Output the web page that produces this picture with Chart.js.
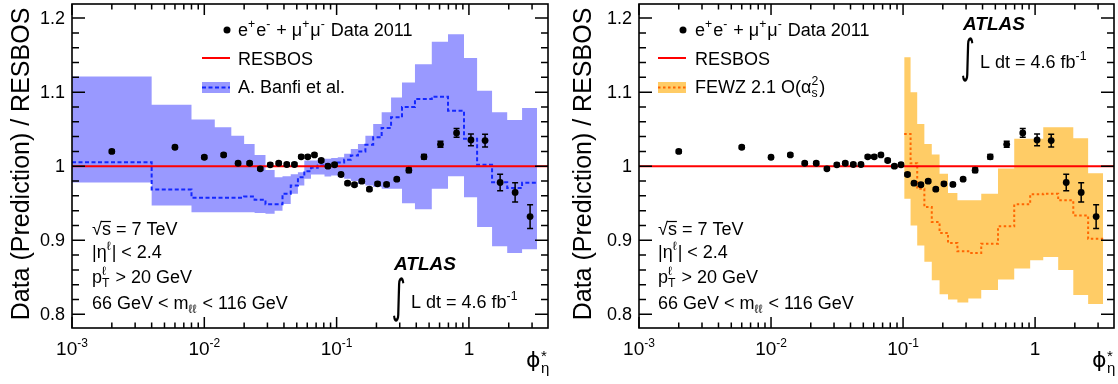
<!DOCTYPE html>
<html>
<head>
<meta charset="utf-8">
<script src="https://cdn.jsdelivr.net/npm/chart.js@4.4.0/dist/chart.umd.min.js"></script>
<style>
  html, body { margin: 0; padding: 0; background: #fff; }
  #wrap { position: relative; width: 1118px; height: 384px; }
  .panel { position: absolute; top: 0; width: 559px; height: 384px; }
</style>
</head>
<body>
<div id="wrap">
  <div class="panel" style="left:0"><canvas id="leftPanel" width="559" height="384"></canvas></div>
  <div class="panel" style="left:559px"><canvas id="rightPanel" width="559" height="384"></canvas></div>
</div>
<script>
const FONT = '"Liberation Sans", Arial, Helvetica, sans-serif';
const SYM = '"DejaVu Sans", "Liberation Sans", sans-serif';

////// data //////
// phi*_eta bin edges
const binEdges = [0, 0.004, 0.008, 0.012, 0.016, 0.020, 0.024, 0.029, 0.034, 0.039, 0.045, 0.051,
  0.057, 0.064, 0.072, 0.081, 0.091, 0.102, 0.114, 0.128, 0.145, 0.165, 0.189, 0.219, 0.258,
  0.312, 0.391, 0.524, 0.695, 0.918, 1.153, 1.496, 1.947, 2.522, 3.277];

// data points (bin centres), ratio data / RESBOS and stat error
const dataPhi = [0.002, 0.006, 0.010, 0.014, 0.018, 0.022, 0.0265, 0.0315, 0.0365, 0.042, 0.048,
  0.054, 0.0605, 0.068, 0.0765, 0.086, 0.0965, 0.108, 0.121, 0.1365, 0.155, 0.177, 0.204, 0.2385,
  0.285, 0.3515, 0.4575, 0.6095, 0.8065, 1.0355, 1.3245, 1.7215, 2.2345, 2.8995];
const dataRatio = [1.020, 1.0256, 1.0121, 1.0153, 1.004, 1.004, 0.9965, 1.0019, 1.004, 1.0023, 1.0023,
  1.0127, 1.0127, 1.0153, 1.0077, 1.000, 1.002, 0.9888, 0.9771, 0.975, 0.9798, 0.969, 0.9763, 0.9754,
  0.9825, 0.9946, 1.0127, 1.0296, 1.045, 1.0355, 1.0346, 0.978, 0.9646, 0.932];
const dataErr = [0.002, 0.002, 0.002, 0.002, 0.002, 0.002, 0.002, 0.002, 0.002, 0.002, 0.002,
  0.002, 0.002, 0.002, 0.002, 0.002, 0.002, 0.002, 0.002, 0.002, 0.002, 0.002, 0.002, 0.002,
  0.002, 0.003, 0.003, 0.004, 0.006, 0.008, 0.0085, 0.011, 0.013, 0.016];

// A. Banfi et al. band (per bin)
const banfiHigh = [1.121, 1.083, 1.063, 1.0525, 1.0413, 1.0301, 1.0153, 0.995, 0.985, 0.9865, 0.989,
  0.992, 1.0077, 1.0077, 1.010, 1.010, 1.011, 1.012, 1.0167, 1.0234, 1.030, 1.0413, 1.057, 1.0727,
  1.0929, 1.113, 1.1378, 1.168, 1.178, 1.146, 1.102, 1.0727, 1.0624, 1.0786];
const banfiLow = [0.978, 0.947, 0.938, 0.938, 0.938, 0.938, 0.937, 0.936, 0.940, 0.949, 0.963,
  0.974, 0.983, 0.9888, 0.9888, 0.986, 0.9875, 0.985, 0.983, 0.980, 0.976, 0.974, 0.972, 0.9695,
  0.9695, 0.950, 0.942, 0.9695, 0.9865, 0.958, 0.918, 0.892, 0.883, 0.888];
const banfiMid = [1.0054, 0.9686, 0.9575, 0.9575, 0.9575, 0.959, 0.9548, 0.9485, 0.9485, 0.9628, 0.974,
  0.985, 0.9933, 0.9978, 1.001, 1.003, 1.003, 1.005, 1.0086, 1.0144, 1.0198, 1.029, 1.039, 1.0517,
  1.066, 1.080, 1.0907, 1.0938, 1.075, 1.037, 1.002, 0.9785, 0.9705, 0.9777];

// FEWZ 2.1 band (bins above 0.102)
const fewzEdges = [0.102, 0.114, 0.128, 0.145, 0.165, 0.189, 0.219, 0.258, 0.312, 0.391, 0.524,
  0.695, 0.918, 1.153, 1.496, 1.947, 2.522, 3.277];
const fewzHigh = [1.147, 1.100, 1.057, 1.030, 1.0157, 0.99, 0.964, 0.954, 0.954, 0.963, 0.997,
  1.037, 1.037, 1.0525, 1.0525, 1.0377, 0.9906];
const fewzLow = [0.956, 0.920, 0.893, 0.871, 0.846, 0.827, 0.820, 0.816, 0.8215, 0.833, 0.847,
  0.862, 0.873, 0.8775, 0.860, 0.826, 0.814];
const fewzMid = [1.0436, 1.004, 0.9695, 0.9448, 0.9246, 0.910, 0.8964, 0.8852, 0.883, 0.8955, 0.9188,
  0.9485, 0.962, 0.963, 0.954, 0.9336, 0.902];

// RESBOS reference line
const resbosPhi = [0.001, 3.96];
const resbosRatio = [1, 1];

// axes
const xRange = [0.001, 3.96];
const yRange = [0.7816, 1.219];
const yTicks = [0.8, 0.9, 1, 1.1, 1.2];
const yTickLabels = ['0.8', '0.9', '1', '1.1', '1.2'];
const yMinorStep = 0.02;
const xTicks = [0.001, 0.01, 0.1, 1];
const xTickExp = ['-3', '-2', '-1', ''];

////// helpers //////
function steps(edges, vals) {
  const pts = vals.map((v, i) => ({ x: Math.max(edges[i], xRange[0]), y: v }));
  pts.push({ x: edges[vals.length], y: vals[vals.length - 1] });
  return pts;
}

// draw text made of normal / sup / sub pieces
function rich(ctx, x, y, parts, size) {
  let cx = x;
  const s = size * 0.68;
  for (const p of parts) {
    if (typeof p === 'string') {
      ctx.font = size + 'px ' + FONT;
      ctx.fillText(p, cx, y);
      cx += ctx.measureText(p).width;
    } else {
      ctx.font = s + 'px ' + FONT;
      let w = 0;
      if (p.sup !== undefined) {
        ctx.fillText(p.sup, cx, y - size * 0.42);
        w = Math.max(w, ctx.measureText(p.sup).width);
      }
      if (p.sub !== undefined) {
        ctx.fillText(p.sub, cx, y + size * 0.24);
        w = Math.max(w, ctx.measureText(p.sub).width);
      }
      cx += w + 1;
    }
  }
  return cx;
}

// integral sign stretched to a given height
function integral(ctx, x, top, bottom) {
  ctx.save();
  ctx.font = '40px ' + SYM;
  const m = ctx.measureText('\u222B');
  const h = m.actualBoundingBoxAscent + m.actualBoundingBoxDescent;
  const k = (bottom - top) / h;
  ctx.translate(x, top);
  ctx.scale(k * 0.6, k);
  ctx.textAlign = 'left';
  ctx.textBaseline = 'alphabetic';
  ctx.fillText('\u222B', m.actualBoundingBoxLeft, m.actualBoundingBoxAscent);
  ctx.restore();
}

////// plugins //////
const errorBars = {
  id: 'errorBars',
  beforeDatasetDraw(chart, args) {
    if (chart.data.datasets[args.index].label !== 'data') return;
    const { ctx, scales: { x, y } } = chart;
    ctx.save();
    ctx.strokeStyle = '#000';
    ctx.lineWidth = 1.5;
    ctx.beginPath();
    dataPhi.forEach((phi, i) => {
      const px = x.getPixelForValue(phi);
      const lo = y.getPixelForValue(dataRatio[i] - dataErr[i]);
      const hi = y.getPixelForValue(dataRatio[i] + dataErr[i]);
      ctx.moveTo(px, lo); ctx.lineTo(px, hi);
      ctx.moveTo(px - 3, lo); ctx.lineTo(px + 3, lo);
      ctx.moveTo(px - 3, hi); ctx.lineTo(px + 3, hi);
    });
    ctx.stroke();
    ctx.restore();
  }
};

const axesFrame = {
  id: 'axesFrame',
  afterDraw(chart, args, opts) {
    const { ctx, chartArea: a, scales: { x, y } } = chart;
    ctx.save();
    ctx.strokeStyle = '#000';
    ctx.fillStyle = '#000';
    ctx.lineWidth = 1.5;
    ctx.beginPath();
    // y ticks, both sides, pointing inwards
    for (let k = 40; k <= 60; k++) {
      const py = y.getPixelForValue(k * yMinorStep);
      const len = k % 5 === 0 ? 13 : 7;
      ctx.moveTo(a.left, py); ctx.lineTo(a.left + len, py);
      ctx.moveTo(a.right, py); ctx.lineTo(a.right - len, py);
    }
    // log x ticks, bottom and top
    xTicks.forEach(d => {
      for (let m = 1; m <= 9; m++) {
        const v = d * m;
        if (v > x.max * 1.0001) break;
        const px = x.getPixelForValue(v);
        const len = m === 1 ? 11 : 5.5;
        ctx.moveTo(px, a.bottom); ctx.lineTo(px, a.bottom - len);
        ctx.moveTo(px, a.top); ctx.lineTo(px, a.top + len);
      }
    });
    ctx.stroke();
    ctx.lineWidth = 1.6;
    ctx.strokeRect(a.left, a.top, a.right - a.left, a.bottom - a.top);

    // y tick labels
    ctx.font = '18px ' + FONT;
    ctx.textAlign = 'right';
    ctx.textBaseline = 'middle';
    yTicks.forEach((v, i) => ctx.fillText(yTickLabels[i], a.left - 7, y.getPixelForValue(v) + 1));

    // x tick labels
    ctx.textBaseline = 'alphabetic';
    ctx.textAlign = 'left';
    xTicks.forEach((v, i) => {
      const px = x.getPixelForValue(v);
      const base = xTickExp[i] ? '10' : '1';
      ctx.font = '19px ' + FONT;
      const w1 = ctx.measureText(base).width;
      ctx.font = '12px ' + FONT;
      const w2 = xTickExp[i] ? ctx.measureText(xTickExp[i]).width : 0;
      const x0 = px - (w1 + w2) / 2;
      ctx.font = '19px ' + FONT;
      ctx.fillText(base, x0, 355);
      if (xTickExp[i]) {
        ctx.font = '12px ' + FONT;
        ctx.fillText(xTickExp[i], x0 + w1, 347);
      }
    });

    // y title
    ctx.save();
    ctx.translate(opts.titleX, 164);
    ctx.rotate(-Math.PI / 2);
    ctx.font = '25px ' + FONT;
    ctx.textAlign = 'center';
    ctx.fillText('Data (Prediction) / RESBOS', 0, 0);
    ctx.restore();

    // x title phi*_eta
    ctx.textAlign = 'left';
    ctx.font = '22px ' + SYM;
    ctx.fillText('\u03D5', a.right - 22, 367);
    ctx.font = '15px ' + FONT;
    ctx.fillText('*', a.right - 7, 361);
    ctx.fillText('\u03B7', a.right - 7, 373);
    ctx.restore();
  }
};

function makeNotes(cfg) {
  return {
    id: 'notes',
    afterDraw(chart) {
      const ctx = chart.ctx;
      ctx.save();
      ctx.fillStyle = '#000';
      ctx.textAlign = 'left';
      ctx.textBaseline = 'alphabetic';

      // legend
      const L = cfg.legend;
      ctx.beginPath();
      ctx.arc(L.markerX, 30, 3.5, 0, Math.PI * 2);
      ctx.fill();
      rich(ctx, L.textX, 36, ['e', { sup: '+' }, 'e', { sup: '-' }, ' + \u03BC', { sup: '+' }, '\u03BC', { sup: '-' }, ' Data 2011'], 18);
      ctx.strokeStyle = 'rgb(255,0,0)';
      ctx.lineWidth = 2;
      ctx.beginPath(); ctx.moveTo(L.boxX, 58); ctx.lineTo(L.boxX + 28, 58); ctx.stroke();
      rich(ctx, L.textX, 65, ['RESBOS'], 18);
      ctx.fillStyle = cfg.bandColor;
      ctx.fillRect(L.boxX, 82, 28, 11);
      ctx.strokeStyle = cfg.lineColor;
      ctx.setLineDash(cfg.dash);
      ctx.beginPath(); ctx.moveTo(L.boxX, 87.5); ctx.lineTo(L.boxX + 28, 87.5); ctx.stroke();
      ctx.setLineDash([]);
      ctx.fillStyle = '#000';
      rich(ctx, L.textX, 93, cfg.bandLabel, 18);

      // kinematic selection
      const kx = cfg.kinX;
      ctx.font = '18px ' + FONT;
      const wr = ctx.measureText('\u221A').width;
      ctx.fillText('\u221A', kx, 235);
      const ws = ctx.measureText('s').width;
      ctx.lineWidth = 1.2;
      ctx.strokeStyle = '#000';
      ctx.beginPath(); ctx.moveTo(kx + wr - 1, 221.5); ctx.lineTo(kx + wr + ws, 221.5); ctx.stroke();
      rich(ctx, kx + wr, 235, ['s = 7 TeV'], 18);
      rich(ctx, kx, 258, ['|\u03B7', { sup: '\u2113' }, '| < 2.4'], 18);
      rich(ctx, kx, 283, ['p', { sub: 'T', sup: '\u2113' }, ' > 20 GeV'], 18);
      rich(ctx, kx, 309, ['66 GeV < m', { sub: '\u2113\u2113' }, ' < 116 GeV'], 18);

      // ATLAS label
      const A = cfg.atlas;
      ctx.font = 'italic bold 19px ' + FONT;
      ctx.fillText('ATLAS', A.x, A.y);
      integral(ctx, A.x - 1, A.y + 6, A.y + 52);
      rich(ctx, A.x + 17, A.y + 38, ['L dt = 4.6 fb', { sup: '-1' }], 18);
      ctx.restore();
    }
  };
}

function makePanel(id, pad, titleX, model, notes) {
  return new Chart(document.getElementById(id), {
    type: 'scatter',
    data: {
      datasets: [
        { label: 'bandHigh', data: steps(model.edges, model.high), showLine: true, stepped: true,
          borderWidth: 0, pointRadius: 0, fill: '+1', backgroundColor: model.bandColor, order: 4 },
        { label: 'bandLow', data: steps(model.edges, model.low), showLine: true, stepped: true,
          borderWidth: 0, pointRadius: 0, fill: false, order: 3 },
        { label: 'central', data: steps(model.edges, model.mid), showLine: true, stepped: true,
          borderWidth: 2, borderColor: model.lineColor, borderDash: model.dash, pointRadius: 0, fill: false, order: 2 },
        { label: 'RESBOS', data: resbosPhi.map((p, i) => ({ x: p, y: resbosRatio[i] })), showLine: true,
          borderWidth: 2, borderColor: 'rgb(255,0,0)', pointRadius: 0, fill: false, order: 1 },
        { label: 'data', data: dataPhi.map((p, i) => ({ x: p, y: dataRatio[i] })), showLine: false,
          pointRadius: 3.4, pointBackgroundColor: '#000', pointBorderWidth: 0, order: 0 }
      ]
    },
    options: {
      responsive: false,
      animation: false,
      devicePixelRatio: 1,
      events: [],
      layout: { padding: pad },
      plugins: { legend: { display: false }, tooltip: { enabled: false }, axesFrame: { titleX: titleX } },
      scales: {
        x: { type: 'logarithmic', min: xRange[0], max: xRange[1], display: false },
        y: { type: 'linear', min: yRange[0], max: yRange[1], display: false }
      }
    },
    plugins: [errorBars, axesFrame, notes]
  });
}

const banfiModel = { edges: binEdges, high: banfiHigh, low: banfiLow, mid: banfiMid,
  bandColor: 'rgb(153,153,255)', lineColor: 'rgb(20,40,255)', dash: [4, 2.5] };
const fewzModel = { edges: fewzEdges, high: fewzHigh, low: fewzLow, mid: fewzMid,
  bandColor: 'rgb(255,204,102)', lineColor: 'rgb(255,102,0)', dash: [2.5, 2.5] };

makePanel('leftPanel', { left: 72, right: 11, top: 3, bottom: 56 }, 28.5, banfiModel,
  makeNotes({
    legend: { markerX: 227, boxX: 202, textX: 238 },
    bandColor: banfiModel.bandColor, lineColor: banfiModel.lineColor, dash: banfiModel.dash,
    bandLabel: ['A. Banfi et al.'],
    kinX: 92,
    atlas: { x: 394, y: 270 }
  }));

makePanel('rightPanel', { left: 80, right: 2, top: 3, bottom: 56 }, 32, fewzModel,
  makeNotes({
    legend: { markerX: 124, boxX: 99, textX: 136 },
    bandColor: fewzModel.bandColor, lineColor: fewzModel.lineColor, dash: fewzModel.dash,
    bandLabel: ['FEWZ 2.1 O(\u03B1', { sub: 's', sup: '2' }, ')'],
    kinX: 99,
    atlas: { x: 404, y: 30 }
  }));
</script>
</body>
</html>
